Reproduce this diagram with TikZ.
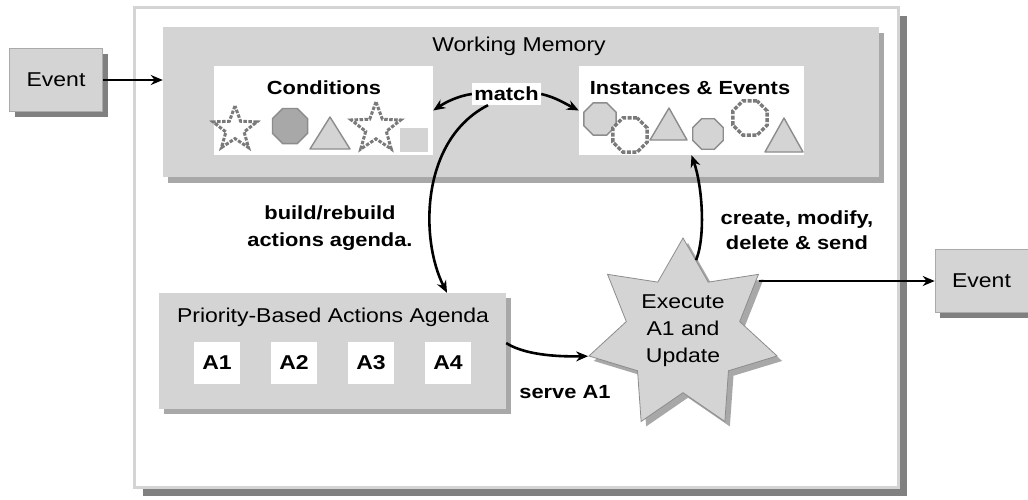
\documentclass[tikz,border=0pt]{standalone}
\usepackage{fontspec}
\setmainfont{Liberation Sans}[FakeStretch=1.15]
\usetikzlibrary{shapes.geometric,shadows,arrows.meta}
\definecolor{lg}{HTML}{D4D4D4}
\definecolor{sh}{HTML}{A8A8A8}
\definecolor{dsh}{HTML}{808080}
\definecolor{og}{HTML}{8C8C8C}
\definecolor{dg}{HTML}{7A7A7A}
\definecolor{mg}{HTML}{A8A8A8}
\begin{document}
\begin{tikzpicture}[x=1pt,y=-1pt,
  arr/.style={line width=2.6pt,-{Stealth[length=12pt,width=10pt]}},
  txt/.style={font=\fontsize{20}{27}\selectfont,inner sep=0pt},
  btxt/.style={font=\bfseries\fontsize{19}{27}\selectfont,inner sep=0pt},
  graybox/.style={rectangle,fill=lg,draw=none,inner sep=0pt},
  whitebox/.style={rectangle,fill=white,draw=none,inner sep=0pt},
  evbox/.style={rectangle,fill=lg,draw=lg!80!black,line width=0.6pt,inner sep=0pt,
    minimum width=93pt,minimum height=63pt,font=\fontsize{20}{24}\selectfont,
    drop shadow={shadow xshift=5pt,shadow yshift=-5pt,fill=dsh,opacity=1}},
  abox/.style={whitebox,minimum width=46pt,minimum height=42pt,font=\bfseries\fontsize{20}{24}\selectfont},
  dstar/.style={star,star points=5,star point ratio=2.4,draw=dg,line width=3pt,
    dash pattern=on 3.5pt off 1.5pt,fill=white,inner sep=0pt},
  oct/.style={regular polygon,regular polygon sides=8,draw=og,line width=1.4pt,fill=lg,inner sep=0pt},
  doct/.style={regular polygon,regular polygon sides=8,draw=dg,line width=3.4pt,
    dash pattern=on 4pt off 1.5pt,fill=white,inner sep=0pt},
  tri/.style={fill=lg,draw=og,line width=1.4pt,line join=round}
]
\useasboundingbox (0,0) rectangle (1028,499);

% outer frame
\node[rectangle,fill=white,draw=lg,line width=3pt,minimum width=764pt,minimum height=480pt,
  drop shadow={shadow xshift=9pt,shadow yshift=-9pt,fill=dsh,opacity=1}] (outer) at (516,247) {};

% working memory
\node[graybox,minimum width=716pt,minimum height=150pt,
  drop shadow={shadow xshift=5pt,shadow yshift=-6pt,fill=sh,opacity=1}] (wm) at (521,102) {};
\node[txt] (wmt) at (519,46) {Working Memory};

\node[whitebox,minimum width=219pt,minimum height=89pt] (cond) at (323.5,110.5) {};
\node[btxt] (condt) at (324,88) {Conditions};
\node[whitebox,minimum width=225pt,minimum height=89pt] (inst) at (691.5,110.5) {};
\node[btxt] (instt) at (690,88) {Instances \& Events};
\node[whitebox,btxt,minimum width=69pt,minimum height=22pt] (match) at (506.5,94) {match};

% condition shapes
\node[dstar,minimum size=46pt] (s1) at (235,129) {};
\node[oct,fill=mg,minimum size=38pt] (o1) at (290,126) {};
\draw[tri] (310,149) -- (330,117) -- (350,149) -- cycle;
\node[dstar,minimum size=52pt] (s2) at (376,128) {};
\fill[lg] (400,128) rectangle (428,152);

% instance shapes
\node[oct,minimum size=35pt] (i1) at (600,119) {};
\node[doct,minimum size=37pt] (i2) at (630,135) {};
\draw[tri] (650,140) -- (669,108) -- (687,140) -- cycle;
\node[oct,minimum size=33pt] (i3) at (708,134) {};
\node[doct,minimum size=37pt] (i4) at (750,118) {};
\draw[tri] (765,152) -- (784,118) -- (803,152) -- cycle;

% events
\node[evbox] (evL) at (56,80) {Event};
\node[evbox] (evR) at (981.5,281) {Event};

% agenda
\node[graybox,minimum width=347pt,minimum height=116pt,
  drop shadow={shadow xshift=5pt,shadow yshift=-5pt,fill=sh,opacity=1}] (agenda) at (332.5,351) {};
\node[txt] (agt) at (333,317) {Priority-Based Actions Agenda};
\node[abox] (a1) at (217,363) {A1};
\node[abox] (a2) at (294,363) {A2};
\node[abox] (a3) at (371,363) {A3};
\node[abox] (a4) at (448,363) {A4};

% execute star
\node[star,star points=7,star point ratio=1.66,minimum size=193pt,fill=lg,draw=og,line width=0.8pt,
  inner sep=0pt,drop shadow={shadow xshift=5pt,shadow yshift=-5pt,fill=mg,opacity=1}] (exec) at (683,334.5) {};
\node[txt,align=center] (exect) at (683,331) {Execute\\A1 and\\Update};

% labels
\node[btxt,align=center] (lbuild) at (330,228) {build/rebuild\\actions agenda.};
\node[btxt,align=center,font=\bfseries\fontsize{19}{25}\selectfont] (lcreate) at (797,230) {create, modify,\\delete \& send};
\node[btxt] (lserve) at (565,392) {serve A1};

% connectors
\draw[arr] (evL.east) -- (evL.east -| wm.west);
\draw[arr] (match.west) .. controls (458,96) and (446,102) .. (cond.east);
\draw[arr] (match.east) .. controls (555,97) and (566,104) .. (inst.west);
\draw[arr] ([xshift=-18.5pt]match.south) .. controls (420,140) and (420,240) .. ([xshift=114.5pt]agenda.north);
\draw[arr] (exec.80) .. controls (706,235) and (702,185) .. (inst.south);
\draw[arr] ([yshift=8pt]agenda.east) .. controls (520,352) and (545,357) .. (exec.outer point 3);
\draw[arr] (evR.west -| exec.outer point 7) -- (evR.west);
\end{tikzpicture}
\end{document}
